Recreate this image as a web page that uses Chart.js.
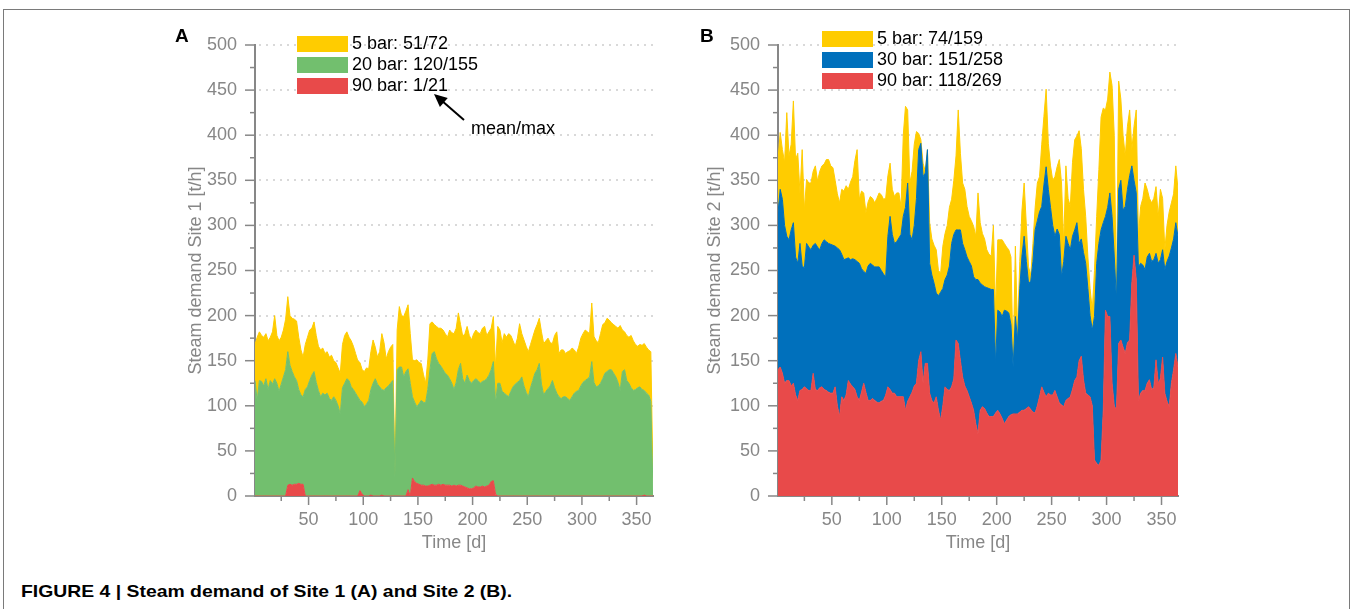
<!DOCTYPE html>
<html>
<head>
<meta charset="utf-8">
<script src="https://cdn.jsdelivr.net/npm/chart.js@4/dist/chart.umd.min.js"></script>
<style>
  html, body { margin: 0; padding: 0; background: #fff; }
  body { width: 1352px; height: 609px; position: relative; overflow: hidden; }
  .frame { position: absolute; left: 3px; top: 9px; width: 1345px; height: 640px; border: 1px solid #7a7a7a; border-bottom: none; }
  canvas { position: absolute; top: 0; }
  #chartA { left: 150px; }
  #chartB { left: 672px; }
  .caption { position: absolute; left: 21px; top: 582px; font: bold 17px 'Liberation Sans', Arial, sans-serif; color: #000; white-space: nowrap; transform: scaleX(1.14); transform-origin: left center; }
</style>
</head>
<body>
<div class="frame"></div>
<canvas id="chartA" width="520" height="560"></canvas>
<canvas id="chartB" width="520" height="560"></canvas>
<div class="caption">FIGURE 4 | Steam demand of Site 1 (A) and Site 2 (B).</div>
<script>
// every second day of the year
const days = Array.from({ length: 183 }, (_, i) => 1 + 2 * i);
const yTicks = [0, 50, 100, 150, 200, 250, 300, 350, 400, 450, 500];
const xTicks = [50, 100, 150, 200, 250, 300, 350];

// Site 1, t/h (10 values per line = 20 days)
const site1Bar5 = [
  40, 70, 54, 51, 54, 50, 54, 48, 58, 70,
  53, 56, 52, 52, 56, 61, 55, 59, 64, 66,
  58, 50, 44, 50, 55, 56, 52, 55, 52, 49,
  52, 50, 46, 46, 46, 50, 40, 42, 42, 45,
  48, 53, 52, 48, 51, 48, 44, 40, 42, 36,
  39, 40, 35, 42, 48, 35, 30, 39, 62, 53,
  32, 38, 40, 40, 3, 44, 67, 57, 67, 67,
  71, 55, 41, 46, 52, 46, 41, 31, 22, 32,
  51, 35, 30, 36, 39, 42, 44, 44, 42, 54,
  56, 62, 60, 63, 43, 47, 55, 54, 50, 48,
  52, 54, 53, 55, 59, 60, 48, 48, 46, 50,
  40, 63, 59, 54, 66, 64, 70, 62, 51, 42,
  49, 63, 48, 51, 51, 50, 48, 48, 48, 50,
  50, 58, 57, 56, 56, 48, 41, 58, 68, 48,
  54, 52, 48, 52, 55, 54, 48, 42, 48, 53,
  54, 56, 52, 48, 65, 51, 51, 48, 55, 60,
  56, 59, 55, 52, 54, 56, 60, 72, 46, 42,
  50, 51, 58, 55, 50, 46, 47, 49, 52, 51,
  50, 55, 15
];
const site1Bar20 = [
  128, 106, 128, 127, 122, 130, 118, 128, 124, 130,
  125, 116, 124, 132, 140, 148, 132, 126, 119, 115,
  104, 99, 97, 118, 121, 128, 134, 138, 126, 117,
  110, 114, 112, 114, 108, 106, 110, 106, 100, 91,
  120, 125, 130, 128, 121, 118, 114, 110, 100, 102,
  99, 102, 106, 117, 125, 130, 124, 121, 117, 117,
  120, 122, 125, 128, 21, 140, 143, 143, 132, 138,
  134, 125, 90, 88, 85, 89, 94, 92, 92, 107,
  128, 145, 148, 140, 134, 132, 127, 124, 122, 118,
  114, 106, 115, 128, 135, 119, 115, 125, 120, 117,
  119, 119, 118, 115, 116, 118, 119, 122, 124, 132,
  101, 125, 125, 116, 114, 112, 110, 116, 121, 124,
  126, 128, 132, 122, 115, 110, 120, 128, 136, 140,
  147, 124, 112, 116, 119, 122, 128, 120, 114, 110,
  108, 110, 110, 108, 106, 110, 114, 116, 117, 122,
  126, 128, 130, 132, 149, 126, 121, 122, 125, 130,
  136, 138, 140, 140, 136, 132, 126, 117, 138, 140,
  128, 125, 120, 117, 118, 120, 121, 118, 116, 114,
  112, 105, 5
];
const site1Bar90 = [
  0, 0, 0, 0, 0, 0, 0, 0, 0, 0,
  0, 0, 0, 0, 0, 12, 13, 12, 13, 13,
  14, 13, 13, 0, 0, 0, 0, 0, 0, 0,
  0, 0, 0, 0, 0, 0, 0, 0, 0, 0,
  0, 0, 0, 0, 0, 0, 0, 0, 6, 2,
  0, 0, 0, 1, 0, 0, 0, 0, 1, 0,
  0, 0, 0, 0, 0, 0, 0, 0, 0, 0,
  7, 0, 20, 16, 14, 13, 12, 12, 11, 11,
  12, 13, 12, 12, 13, 12, 13, 12, 12, 12,
  11, 12, 11, 12, 12, 11, 10, 9, 8, 8,
  9, 11, 10, 10, 11, 10, 11, 12, 16, 17,
  2, 0, 0, 0, 0, 0, 0, 0, 0, 0,
  0, 0, 0, 0, 0, 0, 0, 0, 0, 0,
  0, 0, 0, 0, 0, 0, 0, 0, 0, 0,
  0, 0, 0, 0, 0, 0, 0, 0, 0, 0,
  0, 0, 0, 0, 0, 0, 0, 0, 0, 0,
  0, 0, 0, 0, 0, 0, 0, 0, 0, 0,
  0, 0, 0, 0, 0, 0, 0, 0, 1, 0,
  0, 0, 0
];

// Site 2, t/h
const site2Bar5 = [
  59, 63, 55, 70, 137, 93, 95, 135, 108, 122,
  56, 129, 64, 71, 71, 74, 82, 86, 73, 87,
  86, 84, 91, 93, 87, 86, 73, 60, 52, 72,
  76, 81, 76, 86, 91, 110, 124, 71, 86, 87,
  67, 71, 74, 74, 71, 76, 82, 84, 83, 87,
  67, 59, 50, 52, 54, 50, 31, 90, 112, 81,
  57, 76, 90, 74, 18, 4, 15, 2, 0, 45,
  40, 42, 48, 28, 21, 47, 51, 55, 65, 49,
  60, 82, 133, 85, 67, 67, 56, 50, 50, 56,
  48, 96, 67, 57, 53, 42, 38, 37, 71, 59,
  78, 80, 85, 74, 71, 70, 75, 7, 78, 7,
  30, 51, 59, 40, 18, 7, 20, 25, 42, 39,
  69, 76, 86, 51, 46, 50, 66, 69, 83, 104,
  20, 78, 50, 48, 82, 100, 96, 125, 100, 70,
  52, 35, 30, 22, 51, 52, 82, 125, 127, 118,
  120, 134, 145, 134, 0, 120, 90, 83, 56, 70,
  73, 18, 60, 92, 34, 63, 74, 96, 75, 61,
  65, 68, 74, 52, 78, 57, 22, 40, 49, 50,
  50, 63, 52
];
const site2Bar30 = [
  174, 197, 193, 175, 160, 156, 173, 178, 153, 152,
  163, 137, 132, 161, 159, 156, 142, 162, 159, 153,
  159, 166, 165, 165, 165, 164, 156, 175, 185, 158,
  156, 151, 136, 138, 142, 144, 150, 152, 137, 124,
  132, 149, 152, 148, 148, 150, 151, 145, 140, 131,
  167, 192, 176, 166, 172, 176, 180, 200, 225, 242,
  180, 169, 178, 205, 234, 231, 229, 211, 237, 144,
  139, 133, 115, 127, 142, 130, 119, 127, 138, 159,
  160, 122, 126, 145, 148, 151, 148, 150, 152, 148,
  160, 171, 141, 135, 135, 139, 142, 141, 141, 55,
  111, 113, 113, 126, 121, 115, 100, 52, 108, 82,
  137, 171, 193, 163, 137, 142, 167, 203, 205, 205,
  200, 230, 255, 226, 208, 188, 171, 186, 187, 142,
  161, 182, 172, 163, 170, 167, 171, 130, 130, 141,
  144, 118, 90, 84, 159, 222, 246, 255, 208, 104,
  121, 137, 185, 166, 122, 171, 177, 152, 163, 170,
  182, 130, 83, 96, 148, 144, 139, 134, 140, 140,
  142, 142, 118, 133, 132, 119, 137, 155, 167, 150,
  145, 145, 145
];
const site2Bar90 = [
  140, 143, 136, 125, 128, 128, 122, 125, 112, 106,
  117, 118, 121, 119, 117, 117, 136, 118, 117, 120,
  121, 118, 117, 115, 114, 114, 121, 100, 88, 110,
  106, 112, 128, 124, 121, 118, 110, 106, 115, 125,
  115, 106, 106, 108, 106, 104, 103, 105, 106, 112,
  121, 118, 114, 114, 110, 110, 110, 110, 95, 105,
  110, 115, 122, 125, 150, 160, 125, 147, 147, 114,
  106, 103, 110, 95, 84, 100, 121, 118, 117, 121,
  130, 173, 169, 150, 132, 122, 117, 110, 103, 95,
  80, 69, 95, 99, 97, 92, 88, 88, 88, 92,
  95, 91, 86, 80, 84, 88, 90, 91, 91, 91,
  93, 95, 95, 97, 99, 96, 93, 92, 100, 110,
  121, 115, 110, 114, 112, 112, 117, 110, 103, 101,
  99, 106, 108, 110, 118, 128, 132, 150, 155, 129,
  114, 112, 110, 100, 40, 36, 34, 40, 95, 206,
  199, 199, 125, 100, 95, 169, 173, 165, 158, 170,
  173, 236, 267, 240, 106, 114, 117, 117, 125, 129,
  118, 120, 151, 125, 130, 154, 114, 105, 99, 125,
  140, 158, 143
];

const YELLOW = 'rgb(255, 204, 0)';
const GREEN = 'rgb(114, 191, 110)';
const RED = 'rgb(232, 74, 74)';
const BLUE = 'rgb(0, 112, 188)';
const GREY = 'rgb(135, 135, 135)';
const FONT = "'Liberation Sans', Arial, Helvetica, sans-serif";

const decor = {
  id: 'decor',
  beforeDatasetsDraw(chart) {
    const { ctx, chartArea: a, scales: { y } } = chart;
    ctx.save();
    ctx.strokeStyle = 'rgb(205, 205, 205)';
    ctx.lineWidth = 1.5;
    ctx.setLineDash([2, 5]);
    yTicks.forEach(v => {
      if (v === 0) return;
      const py = Math.round(y.getPixelForValue(v));
      ctx.beginPath();
      ctx.moveTo(a.left + 4, py);
      ctx.lineTo(a.right, py);
      ctx.stroke();
    });
    ctx.restore();
  },
  afterDraw(chart, args, opts) {
    const { ctx, chartArea: a, scales: { x, y } } = chart;
    ctx.save();
    ctx.strokeStyle = GREY;
    ctx.lineWidth = 1.5;
    // tick marks, minor every 25
    for (let v = 0; v <= 500; v += 25) {
      const py = y.getPixelForValue(v);
      const len = v % 50 === 0 ? 10 : 5;
      ctx.beginPath(); ctx.moveTo(a.left - len, py); ctx.lineTo(a.left, py); ctx.stroke();
    }
    for (let v = 25; v <= 350; v += 25) {
      const px = x.getPixelForValue(v);
      const len = v % 50 === 0 ? 9 : 5;
      ctx.beginPath(); ctx.moveTo(px, a.bottom); ctx.lineTo(px, a.bottom + len); ctx.stroke();
    }

    // axis titles
    ctx.fillStyle = GREY;
    ctx.font = '18px ' + FONT;
    ctx.textAlign = 'center';
    ctx.textBaseline = 'middle';
    ctx.fillText(opts.xTitle, (a.left + a.right) / 2, a.bottom + 47);
    ctx.save();
    ctx.translate(opts.yTitleX, (a.top + a.bottom) / 2);
    ctx.rotate(-Math.PI / 2);
    ctx.fillText(opts.yTitle, 0, 0);
    ctx.restore();

    // panel letter
    ctx.fillStyle = '#000';
    ctx.font = 'bold 19px ' + FONT;
    ctx.textAlign = 'left';
    ctx.fillText(opts.panel, opts.panelX, 37);

    // legend, top of the stack first
    ctx.font = '18px ' + FONT;
    chart.data.datasets.slice().reverse().forEach((ds, i) => {
      const top = opts.legendY + i * 21;
      ctx.fillStyle = ds.backgroundColor;
      ctx.fillRect(opts.legendX, top, 51, 16);
      ctx.fillStyle = '#000';
      ctx.fillText(ds.label, opts.legendX + 55, top + 8.5);
    });

    // mean/max arrow
    if (opts.note) {
      const [x0, y0] = opts.note.from;
      const [x1, y1] = opts.note.to;
      const ang = Math.atan2(y1 - y0, x1 - x0);
      ctx.strokeStyle = '#000';
      ctx.lineWidth = 2;
      ctx.beginPath();
      ctx.moveTo(x0, y0);
      ctx.lineTo(x1 - 10 * Math.cos(ang), y1 - 10 * Math.sin(ang));
      ctx.stroke();
      ctx.beginPath();
      ctx.moveTo(x1, y1);
      ctx.lineTo(x1 - 13 * Math.cos(ang) + 6 * Math.sin(ang), y1 - 13 * Math.sin(ang) - 6 * Math.cos(ang));
      ctx.lineTo(x1 - 13 * Math.cos(ang) - 6 * Math.sin(ang), y1 - 13 * Math.sin(ang) + 6 * Math.cos(ang));
      ctx.closePath();
      ctx.fillStyle = '#000';
      ctx.fill();
      ctx.fillText(opts.note.text, opts.note.textX, opts.note.textY);
    }
    ctx.restore();
  }
};

function makeChart(id, series, opts) {
  return new Chart(document.getElementById(id), {
    type: 'line',
    data: {
      labels: days,
      datasets: series.map((s, i) => ({
        label: s.label,
        data: s.data,
        backgroundColor: s.color,
        borderColor: s.color,
        borderWidth: 1,
        pointRadius: 0,
        tension: 0,
        fill: i === 0 ? 'origin' : '-1'
      }))
    },
    options: {
      responsive: false,
      animation: false,
      layout: { padding: { top: 45, right: opts.padRight, bottom: 0, left: 0 } },
      plugins: { legend: { display: false }, tooltip: { enabled: false }, decor: opts },
      scales: {
        x: {
          type: 'linear', min: 1, max: 365, bounds: 'data', z: 1,
          afterFit: s => { s.height = 64; },
          afterBuildTicks: s => { s.ticks = xTicks.map(v => ({ value: v })); },
          grid: { display: false, drawTicks: false },
          border: { color: GREY, width: 2 },
          ticks: { color: GREY, font: { size: 18, family: FONT }, padding: 13, maxRotation: 0, autoSkip: false }
        },
        y: {
          stacked: true, min: 0, max: 500, z: 1,
          afterFit: s => { s.width = opts.axisWidth; },
          afterBuildTicks: s => { s.ticks = yTicks.map(v => ({ value: v })); },
          grid: { display: false, drawTicks: false },
          border: { color: GREY, width: 2 },
          ticks: { color: GREY, font: { size: 18, family: FONT }, padding: 18 }
        }
      }
    },
    plugins: [decor]
  });
}

makeChart('chartA', [
  { label: '90 bar: 1/21', data: site1Bar90, color: RED },
  { label: '20 bar: 120/155', data: site1Bar20, color: GREEN },
  { label: '5 bar: 51/72', data: site1Bar5, color: YELLOW }
], {
  padRight: 17, axisWidth: 105, panel: 'A', panelX: 25,
  legendX: 147, legendY: 36, yTitleX: 46,
  xTitle: 'Time [d]', yTitle: 'Steam demand Site 1 [t/h]',
  note: { from: [314, 120], to: [284, 94], text: 'mean/max', textX: 321, textY: 129 }
});

makeChart('chartB', [
  { label: '90 bar: 118/269', data: site2Bar90, color: RED },
  { label: '30 bar: 151/258', data: site2Bar30, color: BLUE },
  { label: '5 bar: 74/159', data: site2Bar5, color: YELLOW }
], {
  padRight: 14, axisWidth: 106, panel: 'B', panelX: 28,
  legendX: 150, legendY: 31, yTitleX: 43,
  xTitle: 'Time [d]', yTitle: 'Steam demand Site 2 [t/h]'
});
</script>
</body>
</html>
